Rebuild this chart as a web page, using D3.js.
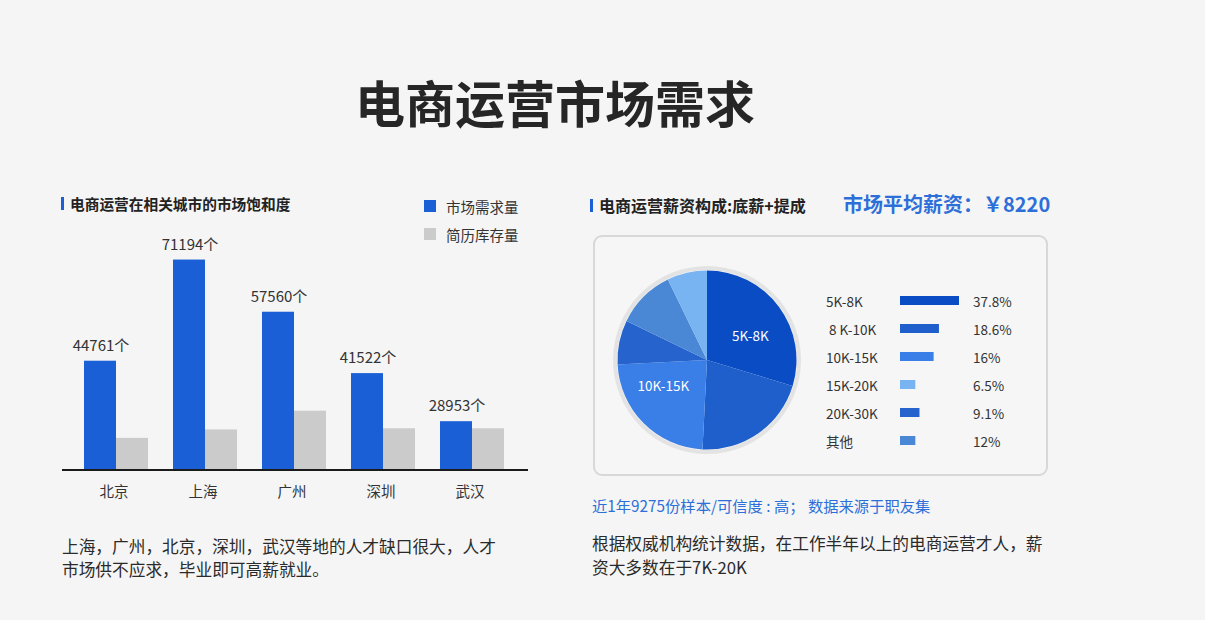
<!DOCTYPE html>
<html><head><meta charset="utf-8">
<script src="https://cdn.jsdelivr.net/npm/d3@7/dist/d3.min.js"></script>
<style>
body{margin:0;background:#f5f5f5;}
svg{display:block;font-family:"Noto Sans CJK SC","Noto Sans",sans-serif;}
</style></head><body>
<svg id="c" width="1205" height="620"></svg>
<script>
// ---- data ----
const cities = ["北京","上海","广州","深圳","武汉"];
const demand = [44761,71194,57560,41522,28953];      // 市场需求量 (labelled)
const resumes = [24600,26800,31700,27100,27100];     // 简历库存量 (estimated)
const seriesNames = ["市场需求量","简历库存量"];
const salaryBands = ["5K-8K"," 8 K-10K","10K-15K","15K-20K","20K-30K","其他"];
const salaryPct = ["37.8%","18.6%","16%","6.5%","9.1%","12%"];
const legendBarIndex = [100,66,57,26,33,26];          // relative bar length in legend
const pieBands = ["5K-8K","8K-10K","10K-15K","20K-30K","其他","15K-20K"];
const pieShare = [29.7,21.1,23.4,8.0,10.6,7.2];       // slice shares as drawn
const pieLabelled = ["5K-8K","10K-15K"];

const svg = d3.select("#c");
const C = {blue:"#1a5fd6", gray:"#cbcbcb", text:"#333"};

// ---- main title ----
svg.append("text").attr("x",555).attr("y",101).attr("text-anchor","middle")
  .attr("dominant-baseline","central").attr("font-size",50).attr("font-weight",700)
  .attr("fill","#262626").text("电商运营市场需求");

// ---- left panel ----
svg.append("rect").attr("x",61).attr("y",197).attr("width",3).attr("height",13).attr("fill",C.blue);
svg.append("text").attr("x",70).attr("y",203).attr("dominant-baseline","central")
  .attr("font-size",14.7).attr("font-weight",700).attr("fill","#222").text("电商运营在相关城市的市场饱和度");

const legend = svg.append("g");
seriesNames.forEach((n,i)=>{
  const g = legend.append("g").attr("transform",`translate(424,${200+i*28})`);
  g.append("rect").attr("width",12).attr("height",12).attr("fill",i?C.gray:C.blue);
  g.append("text").attr("x",22).attr("y",6).attr("dominant-baseline","central")
    .attr("font-size",14.5).attr("fill",C.text).text(n);
});

const x0 = d3.scaleBand().domain(cities).range([71.5,516.5]).paddingInner(0.281).paddingOuter(0.1405);
const x1 = d3.scaleBand().domain(seriesNames).range([0,x0.bandwidth()]);
const y = d3.scaleLinear().domain([16200,75000]).range([470,245]);

const rows = cities.map((c,i)=>({city:c, vals:[demand[i],resumes[i]]}));
const grp = svg.append("g").selectAll("g").data(rows).join("g")
  .attr("transform",d=>`translate(${x0(d.city)},0)`);
grp.selectAll("rect").data(d=>d.vals.map((v,j)=>({k:seriesNames[j],v}))).join("rect")
  .attr("x",d=>x1(d.k)).attr("width",x1.bandwidth())
  .attr("y",d=>y(d.v)).attr("height",d=>y.range()[0]-y(d.v))
  .attr("fill",(d,j)=>j?C.gray:C.blue);
grp.append("text").attr("x",x1.bandwidth()/2+1).attr("y",d=>y(d.vals[0])-10)
  .attr("text-anchor","middle").attr("font-size",15).attr("fill",C.text)
  .text(d=>d.vals[0]+"个");

svg.append("line").attr("x1",62).attr("x2",528).attr("y1",470).attr("y2",470)
  .attr("stroke","#1a1a1a").attr("stroke-width",2);
const xa = svg.append("g").attr("transform","translate(0,470)")
  .call(d3.axisBottom(x0).tickSize(0).tickPadding(17));
xa.select(".domain").remove();
xa.selectAll("text").attr("font-size",14.5).attr("fill",C.text).attr("dx",-2)
  .attr("font-family",'"Noto Sans CJK SC",sans-serif');

const lt = svg.append("text").attr("font-size",16.7).attr("fill","#2a2a2a");
["上海，广州，北京，深圳，武汉等地的人才缺口很大，人才","市场供不应求，毕业即可高薪就业。"].forEach((t,i)=>
  lt.append("tspan").attr("x",62).attr("y",553+i*23).text(t));

// ---- right panel ----
svg.append("rect").attr("x",590).attr("y",199).attr("width",3).attr("height",13).attr("fill",C.blue);
svg.append("text").attr("x",599).attr("y",205).attr("dominant-baseline","central")
  .attr("font-size",16).attr("font-weight",700).attr("fill","#222").text("电商运营薪资构成:底薪+提成");
svg.append("text").attr("x",843).attr("y",203).attr("dominant-baseline","central")
  .attr("font-size",20).attr("font-weight",600).attr("fill","#2d6fd8").text("市场平均薪资：￥8220");

svg.append("rect").attr("x",594).attr("y",236).attr("width",453).attr("height",239).attr("rx",8)
  .attr("fill","#f6f6f6").attr("stroke","#d8d8d8").attr("stroke-width",2);

const color = d3.scaleOrdinal().domain(["5K-8K","8K-10K","10K-15K","15K-20K","20K-30K","其他"])
  .range(["#0a4cc4","#1f5fcc","#3a7ee8","#78b3f2","#2663cd","#4a88d6"]);

const cx=707, cy=360, R=89.5;
const pg = svg.append("g").attr("transform",`translate(${cx},${cy})`);
pg.append("circle").attr("r",R+2.5).attr("fill","none").attr("stroke","#e3e3e3").attr("stroke-width",4);
const pie = d3.pie().sort(null).value(d=>d.v);
const arcs = pie(pieBands.map((b,i)=>({b,v:pieShare[i]})));
const arc = d3.arc().innerRadius(0).outerRadius(R);
pg.selectAll("path").data(arcs).join("path").attr("d",arc).attr("fill",d=>color(d.data.b));
pg.selectAll("text.pl").data(arcs.filter(d=>pieLabelled.includes(d.data.b))).join("text")
  .attr("class","pl")
  .attr("transform",d=>{const a = d.data.b==="5K-8K" ? 1.05 : 4.2;
     return `translate(${Math.sin(a)*50},${-Math.cos(a)*50})`;})
  .attr("text-anchor","middle").attr("dominant-baseline","central")
  .attr("font-size",13.5).attr("fill","#fff").text(d=>d.data.b);

const bx = d3.scaleLinear().domain([0,100]).range([0,59]);
const lg = svg.append("g");
salaryBands.forEach((b,i)=>{
  const yy = 300.5 + i*28;
  const key = b.replace(/\s/g,"");
  lg.append("text").attr("x",826).attr("y",yy).attr("dominant-baseline","central")
    .attr("font-size",13.5).attr("fill",C.text).style("white-space","pre").text(b);
  lg.append("rect").attr("x",900).attr("y",yy-4.5).attr("width",bx(legendBarIndex[i])).attr("height",9)
    .attr("fill",color(key));
  lg.append("text").attr("x",973).attr("y",yy).attr("dominant-baseline","central")
    .attr("font-size",13.5).attr("fill",C.text).text(salaryPct[i]);
});

svg.append("text").attr("x",592).attr("y",505).attr("dominant-baseline","central")
  .attr("font-size",15.3).attr("fill","#2d6fd8").text("近1年9275份样本/可信度 : 高； 数据来源于职友集");
const rt = svg.append("text").attr("font-size",16.7).attr("fill","#2a2a2a");
["根据权威机构统计数据，在工作半年以上的电商运营才人，薪","资大多数在于7K-20K"].forEach((t,i)=>
  rt.append("tspan").attr("x",592).attr("y",550+i*24).text(t));
</script>
</body></html>
